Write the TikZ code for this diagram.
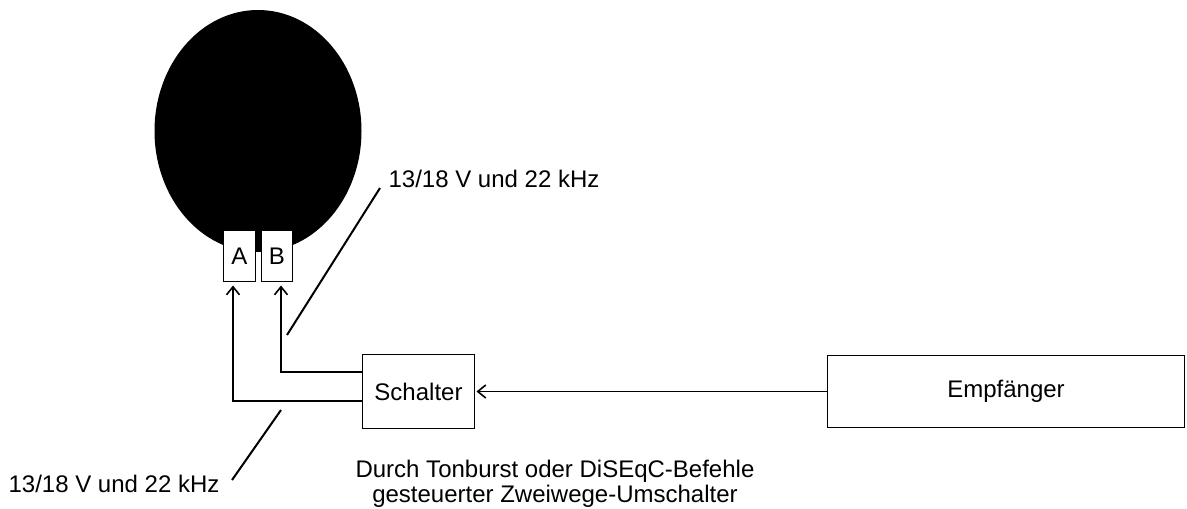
\documentclass[tikz,border=0pt]{standalone}
\usepackage{fontspec}
\setmainfont{Liberation Sans}
\usetikzlibrary{arrows.meta,calc}
\begin{document}
\begin{tikzpicture}[x=1pt,y=-1pt,
  every node/.style={font=\fontsize{24}{25}\selectfont},
  box/.style={draw,line width=1.8pt,fill=white,inner sep=0pt,outer sep=0pt},
  arr/.style={line width=1.8pt,-{Straight Barb[length=8pt,width=13pt,line width=1.6pt]}},
  lead/.style={line width=2pt}]
\useasboundingbox (0,0) rectangle (1187,509);
% dish
\fill[black] (258,131) ellipse [x radius=103.5, y radius=121];
\node[box,minimum width=32pt,minimum height=51pt] (A) at (239.5,256) {A};
\node[box,minimum width=31pt,minimum height=51pt] (B) at (277,256) {B};
% boxes
\node[box,minimum width=112pt,minimum height=74pt] (S) at (418.5,391.5) {Schalter};
\node[box,minimum width=357pt,minimum height=72pt] (E) at (1006,391.5) {Empfänger};
% connectors
\coordinate (sa) at (S.west |- 0,401);
\coordinate (sb) at (S.west |- 0,372);
\draw[arr,shorten >=4pt] (sa) -| ($(A.south)+(-6.5,0)$);
\draw[arr,shorten >=4pt] (sb) -| ($(B.south)+(4,0)$);
\draw[arr,shorten >=2pt] (E.west) -- (S.east);
% labels
\node (L1) at (494,179) {13/18 V und 22 kHz};
\node (L2) at (114,484) {13/18 V und 22 kHz};
\coordinate (u1) at (287,335);
\coordinate (u2) at (380,188);
\coordinate (d1) at (281,410);
\coordinate (d2) at (232,480);
\draw[lead] (u1) -- (u2);
\draw[lead] (d1) -- (d2);
\node[align=center] (T) at (555,484) {Durch Tonburst oder DiSEqC-Befehle\\gesteuerter Zweiwege-Umschalter};
\end{tikzpicture}
\end{document}
